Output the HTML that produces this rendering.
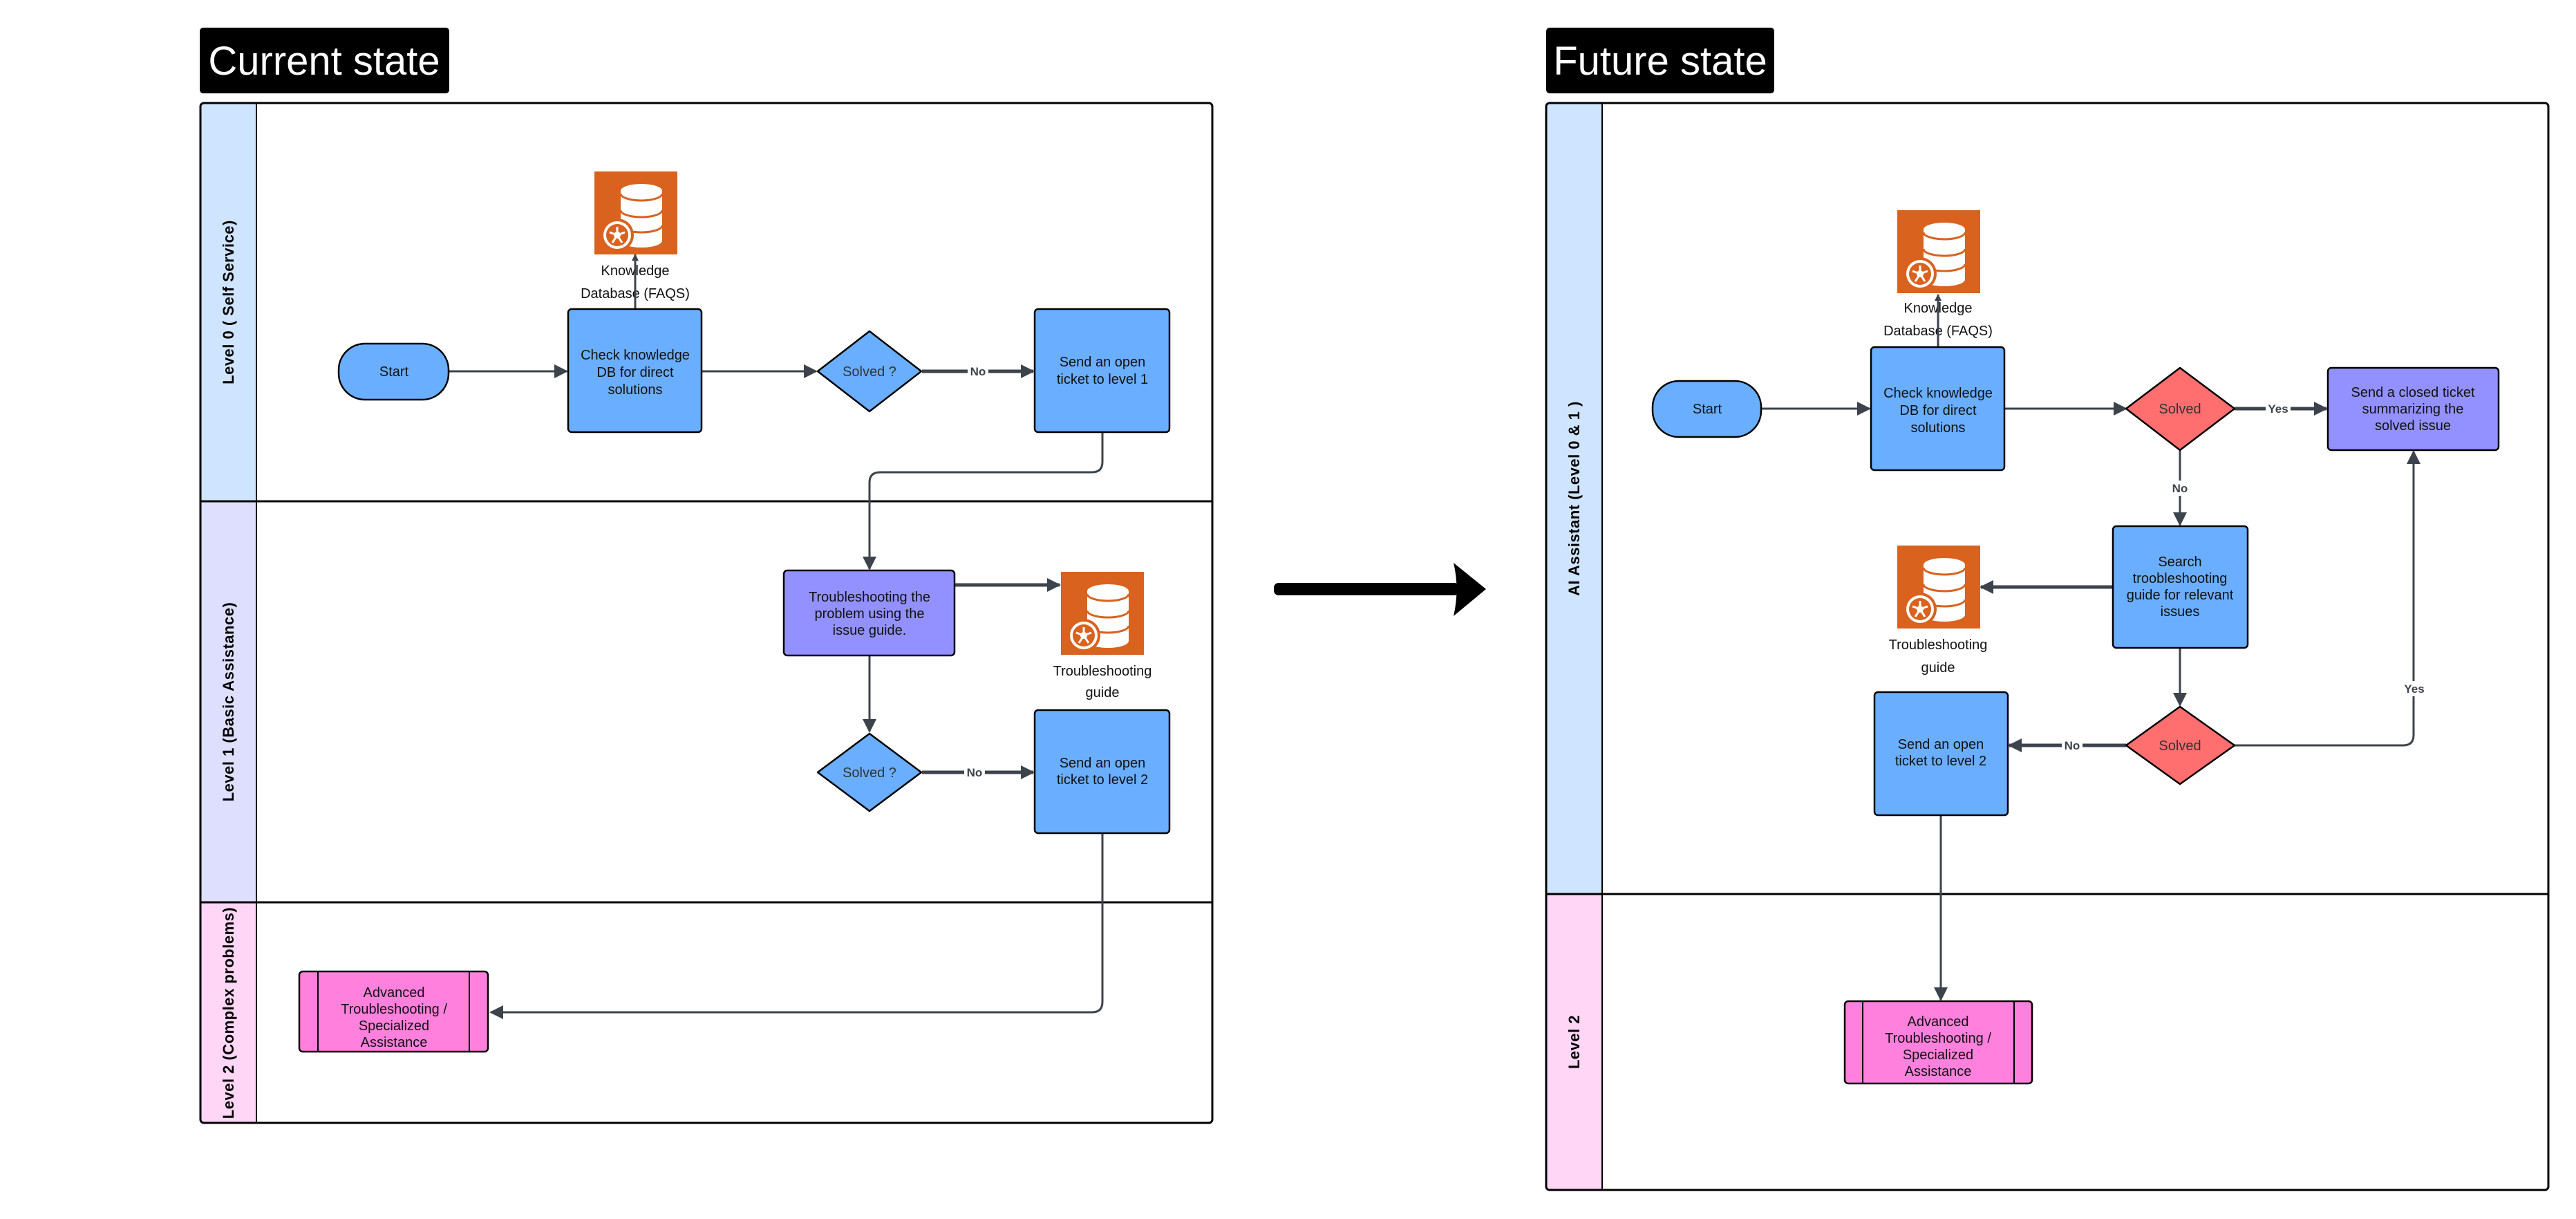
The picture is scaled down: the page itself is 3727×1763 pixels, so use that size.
<!DOCTYPE html>
<html><head><meta charset="utf-8"><style>
html,body{margin:0;padding:0;background:#fff;}
svg{display:block;font-family:"Liberation Sans",sans-serif;}
.t{font-size:20px;fill:#111;text-anchor:middle;}
.l{font-size:22px;font-weight:bold;fill:#000;text-anchor:middle;letter-spacing:0.5px;}
.c{stroke:#3d434b;fill:none;stroke-width:3;}
.ct{stroke:#3d434b;fill:none;stroke-width:5;}
.lb{font-size:17px;font-weight:bold;fill:#3d434b;text-anchor:middle;}
.n{stroke:#000;stroke-width:2.5;}
</style></head><body>
<svg width="3727" height="1763" viewBox="0 0 3727 1763" xmlns="http://www.w3.org/2000/svg">
<defs>
<marker id="ah" markerWidth="10" markerHeight="10" refX="9" refY="5" orient="auto" markerUnits="userSpaceOnUse" viewBox="0 0 10 10"><path d="M0,0 L10,5 L0,10 z" fill="#3d434b"/></marker>
<marker id="ahb" viewBox="0 0 10 10" refX="9" refY="5" markerWidth="20" markerHeight="26" orient="auto" markerUnits="userSpaceOnUse"><path d="M0,0 L10,5 L0,10 z" fill="#3d434b"/></marker>
<g id="icon">
<rect x="0" y="0" width="120" height="120" fill="#d9621f"/>
<path d="M38,28 L38,100 A30,10 0 0 0 98,100 L98,28 Z" fill="#fff"/>
<ellipse cx="68" cy="28" rx="30" ry="10" fill="#fff"/>
<path d="M38,32 A30,10 0 0 0 98,32" stroke="#d9621f" stroke-width="3" fill="none"/>
<path d="M38,56 A30,10 0 0 0 98,56" stroke="#d9621f" stroke-width="3" fill="none"/>
<path d="M38,78 A30,10 0 0 0 98,78" stroke="#d9621f" stroke-width="3" fill="none"/>
<circle cx="33" cy="92" r="24" fill="#d9621f"/>
<circle cx="33" cy="92" r="20" fill="#fff"/>
<circle cx="33" cy="92" r="16" fill="#d9621f"/>
<g stroke="#fff" stroke-width="3"><line x1="33" y1="92" x2="33" y2="80"/><line x1="33" y1="92" x2="44" y2="88"/><line x1="33" y1="92" x2="40" y2="103"/><line x1="33" y1="92" x2="26" y2="103"/><line x1="33" y1="92" x2="22" y2="88"/></g>
<circle cx="33" cy="92" r="5" fill="#fff"/>
</g>
</defs>

<!-- ========== CURRENT STATE ========== -->
<rect x="289" y="40" width="361" height="95" rx="5" fill="#000"/>
<text x="469" y="108" font-size="58" fill="#fff" text-anchor="middle">Current state</text>

<rect x="290" y="149" width="81" height="576" fill="#cfe4ff"/>
<rect x="290" y="725" width="81" height="580" fill="#dedeff"/>
<rect x="290" y="1305" width="81" height="319" fill="#ffd6f5"/>
<rect x="290" y="149" width="1464" height="1475" rx="5" fill="none" stroke="#000" stroke-width="3"/>
<line x1="371" y1="149" x2="371" y2="1624" stroke="#000" stroke-width="2"/>
<line x1="290" y1="725" x2="1754" y2="725" stroke="#000" stroke-width="3"/>
<line x1="290" y1="1305" x2="1754" y2="1305" stroke="#000" stroke-width="3"/>
<text class="l" transform="translate(338,437) rotate(-90)">Level 0 ( Self Service)</text>
<text class="l" transform="translate(338,1015) rotate(-90)">Level 1 (Basic Assistance)</text>
<text class="l" transform="translate(338,1465) rotate(-90)">Level 2 (Complex problems)</text>

<line class="c" x1="649" y1="537" x2="820" y2="537" marker-end="url(#ahb)"/>
<line class="c" x1="1015" y1="537" x2="1181" y2="537" marker-end="url(#ahb)"/>
<line class="ct" x1="1334" y1="537" x2="1495" y2="537" marker-end="url(#ahb)"/>
<rect x="1400" y="527" width="30" height="20" fill="#fff"/><text class="lb" x="1415" y="543">No</text>
<line class="c" x1="919" y1="447" x2="919" y2="368" marker-end="url(#ah)"/>
<path class="c" d="M1595,625 L1595,668 Q1595,683 1580,683 L1273,683 Q1258,683 1258,698 L1258,823" marker-end="url(#ahb)"/>
<line class="ct" x1="1381" y1="846" x2="1533" y2="846" marker-end="url(#ahb)"/>
<line class="c" x1="1258" y1="948" x2="1258" y2="1058" marker-end="url(#ahb)"/>
<line class="ct" x1="1334" y1="1117" x2="1495" y2="1117" marker-end="url(#ahb)"/>
<rect x="1395" y="1107" width="30" height="20" fill="#fff"/><text class="lb" x="1410" y="1123">No</text>
<path class="c" d="M1595,1205 L1595,1449 Q1595,1464 1580,1464 L710,1464" marker-end="url(#ahb)"/>

<rect class="n" x="490" y="497" width="159" height="81" rx="38" fill="#6aaeff"/>
<text class="t" x="570" y="544">Start</text>
<use href="#icon" x="860" y="248"/>
<text class="t" x="919" y="398">Knowledge</text>
<text class="t" x="919" y="431">Database (FAQS)</text>
<line class="c" x1="919" y1="447" x2="919" y2="372"/>
<rect class="n" x="822" y="447" width="193" height="178" rx="5" fill="#6aaeff"/>
<text class="t" x="919" y="520">Check knowledge</text>
<text class="t" x="919" y="545">DB for direct</text>
<text class="t" x="919" y="570">solutions</text>
<path class="n" d="M1258,479 L1333,537 L1258,595 L1183,537 Z" fill="#6aaeff" stroke-linejoin="round"/>
<text class="t" x="1258" y="544" style="fill:#333">Solved ?</text>
<rect class="n" x="1497" y="447" width="195" height="178" rx="5" fill="#6aaeff"/>
<text class="t" x="1595" y="530">Send an open</text>
<text class="t" x="1595" y="555">ticket to level 1</text>

<rect class="n" x="1134" y="825" width="247" height="123" rx="5" fill="#9391ff"/>
<text class="t" x="1258" y="870">Troubleshooting the</text>
<text class="t" x="1258" y="894">problem using the</text>
<text class="t" x="1258" y="918">issue guide.</text>
<use href="#icon" x="1535" y="827"/>
<text class="t" x="1595" y="977">Troubleshooting</text>
<text class="t" x="1595" y="1008">guide</text>
<path class="n" d="M1258,1061 L1333,1117 L1258,1173 L1183,1117 Z" fill="#6aaeff" stroke-linejoin="round"/>
<text class="t" x="1258" y="1124" style="fill:#333">Solved ?</text>
<rect class="n" x="1497" y="1027" width="195" height="178" rx="5" fill="#6aaeff"/>
<text class="t" x="1595" y="1110">Send an open</text>
<text class="t" x="1595" y="1134">ticket to level 2</text>

<rect class="n" x="433" y="1405" width="273" height="116" rx="5" fill="#ff80dd"/>
<line x1="460" y1="1405" x2="460" y2="1521" stroke="#000" stroke-width="2"/>
<line x1="679" y1="1405" x2="679" y2="1521" stroke="#000" stroke-width="2"/>
<text class="t" x="570" y="1442">Advanced</text>
<text class="t" x="570" y="1466">Troubleshooting /</text>
<text class="t" x="570" y="1490">Specialized</text>
<text class="t" x="570" y="1514">Assistance</text>

<!-- big arrow -->
<rect x="1843" y="843" width="268" height="18" rx="7" fill="#000"/>
<path d="M2103,814 L2150,852 L2103,891 Q2112,852 2103,814 Z" fill="#000"/>

<!-- ========== FUTURE STATE ========== -->
<rect x="2237" y="40" width="330" height="95" rx="5" fill="#000"/>
<text x="2402" y="108" font-size="58" fill="#fff" text-anchor="middle">Future state</text>

<rect x="2237" y="149" width="81" height="1144" fill="#cfe4ff"/>
<rect x="2237" y="1293" width="81" height="428" fill="#ffd6f5"/>
<rect x="2237" y="149" width="1450" height="1572" rx="5" fill="none" stroke="#000" stroke-width="3"/>
<line x1="2318" y1="149" x2="2318" y2="1721" stroke="#000" stroke-width="2"/>
<line x1="2237" y1="1293" x2="3687" y2="1293" stroke="#000" stroke-width="3"/>
<text class="l" transform="translate(2285,721) rotate(-90)">AI Assistant (Level 0 &amp; 1 )</text>
<text class="l" transform="translate(2285,1507) rotate(-90)">Level 2</text>

<line class="c" x1="2548" y1="591" x2="2705" y2="591" marker-end="url(#ahb)"/>
<line class="c" x1="2900" y1="591" x2="3076" y2="591" marker-end="url(#ahb)"/>
<line class="ct" x1="3233" y1="591" x2="3366" y2="591" marker-end="url(#ahb)"/>
<rect x="3278" y="581" width="36" height="20" fill="#fff"/><text class="lb" x="3296" y="597">Yes</text>
<line class="c" x1="2804" y1="502" x2="2804" y2="426" marker-end="url(#ah)"/>
<line class="c" x1="3154" y1="651" x2="3154" y2="759" marker-end="url(#ahb)"/>
<rect x="3140" y="695" width="28" height="22" fill="#fff"/><text class="lb" x="3154" y="712">No</text>
<line class="ct" x1="3057" y1="849" x2="2866" y2="849" marker-end="url(#ahb)"/>
<line class="c" x1="3154" y1="937" x2="3154" y2="1020" marker-end="url(#ahb)"/>
<path class="c" d="M3233,1078 L3477,1078 Q3492,1078 3492,1063 L3492,653" marker-end="url(#ahb)"/>
<rect x="3478" y="985" width="30" height="22" fill="#fff"/><text class="lb" x="3493" y="1002">Yes</text>
<line class="ct" x1="3076" y1="1078" x2="2907" y2="1078" marker-end="url(#ahb)"/>
<rect x="2983" y="1068" width="30" height="20" fill="#fff"/><text class="lb" x="2998" y="1084">No</text>
<line class="c" x1="2808" y1="1179" x2="2808" y2="1446" marker-end="url(#ahb)"/>

<rect class="n" x="2391" y="551" width="157" height="81" rx="38" fill="#6aaeff"/>
<text class="t" x="2470" y="598">Start</text>
<use href="#icon" x="2745" y="304"/>
<text class="t" x="2804" y="452">Knowledge</text>
<text class="t" x="2804" y="485">Database (FAQS)</text>
<line class="c" x1="2804" y1="502" x2="2804" y2="430"/>
<rect class="n" x="2707" y="502" width="193" height="178" rx="5" fill="#6aaeff"/>
<text class="t" x="2804" y="575">Check knowledge</text>
<text class="t" x="2804" y="600">DB for direct</text>
<text class="t" x="2804" y="625">solutions</text>
<path class="n" d="M3154,532 L3233,591 L3154,651 L3076,591 Z" fill="#ff6f6f" stroke-linejoin="round"/>
<text class="t" x="3154" y="598" style="fill:#333">Solved</text>
<rect class="n" x="3368" y="532" width="247" height="119" rx="5" fill="#9391ff"/>
<text class="t" x="3491" y="574">Send a closed ticket</text>
<text class="t" x="3491" y="598">summarizing the</text>
<text class="t" x="3491" y="622">solved issue</text>
<rect class="n" x="3057" y="761" width="195" height="176" rx="5" fill="#6aaeff"/>
<text class="t" x="3154" y="819">Search</text>
<text class="t" x="3154" y="843">troobleshooting</text>
<text class="t" x="3154" y="867">guide for relevant</text>
<text class="t" x="3154" y="891">issues</text>
<use href="#icon" x="2745" y="789"/>
<text class="t" x="2804" y="939">Troubleshooting</text>
<text class="t" x="2804" y="972">guide</text>
<path class="n" d="M3154,1022 L3233,1078 L3154,1134 L3076,1078 Z" fill="#ff6f6f" stroke-linejoin="round"/>
<text class="t" x="3154" y="1085" style="fill:#333">Solved</text>
<rect class="n" x="2712" y="1001" width="193" height="178" rx="5" fill="#6aaeff"/>
<text class="t" x="2808" y="1083">Send an open</text>
<text class="t" x="2808" y="1107">ticket to level 2</text>
<rect class="n" x="2669" y="1448" width="271" height="119" rx="5" fill="#ff80dd"/>
<line x1="2695" y1="1448" x2="2695" y2="1567" stroke="#000" stroke-width="2"/>
<line x1="2914" y1="1448" x2="2914" y2="1567" stroke="#000" stroke-width="2"/>
<text class="t" x="2804" y="1484">Advanced</text>
<text class="t" x="2804" y="1508">Troubleshooting /</text>
<text class="t" x="2804" y="1532">Specialized</text>
<text class="t" x="2804" y="1556">Assistance</text>
</svg>
</body></html>
